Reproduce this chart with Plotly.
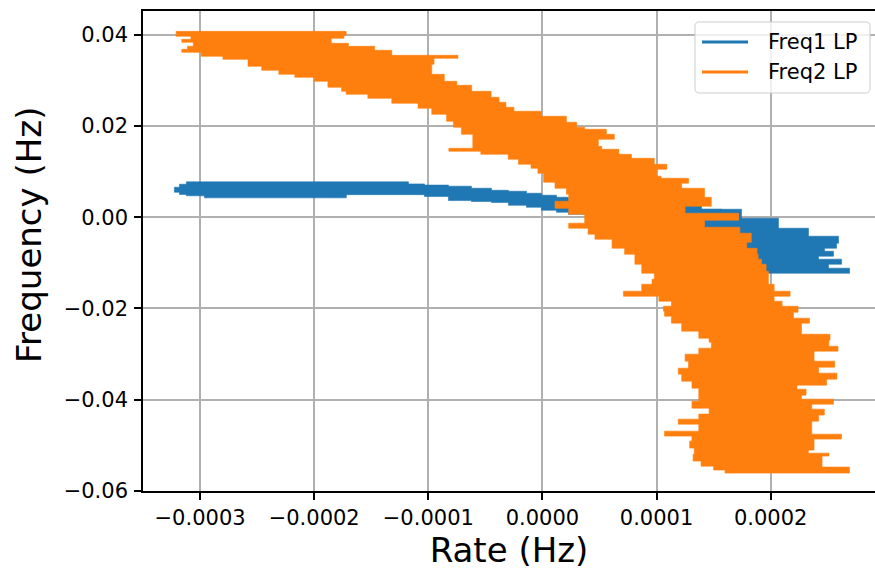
import plotly.graph_objects as go

BLUE = "#1f77b4"
ORANGE = "#ff7f0e"
FONT = "DejaVu Sans"

# ---------------- Freq2 LP band (orange) ----------------
# left boundary of the band: frequency at the top of each step, and rate
f2_left_freq = [0.04074, 0.03965, 0.03899, 0.03834, 0.03746, 0.03680, 0.03614, 0.03527,
                0.03461, 0.03308, 0.03220, 0.03133, 0.03067, 0.02979, 0.02848, 0.02760,
                0.02694, 0.02607, 0.02497, 0.02388, 0.02256, 0.02103, 0.01972, 0.01818,
                0.01512, 0.01446, 0.01380, 0.01271, 0.01161, 0.01073, 0.00964, 0.00767,
                0.00635, 0.00504, 0.00350, 0.00197, 0.00066, -0.00131, -0.00241, -0.00372,
                -0.00482, -0.00679, -0.00811, -0.01030, -0.01227, -0.01358, -0.01468, -0.01621,
                -0.01731, -0.01840, -0.01950, -0.02059, -0.02169, -0.02322, -0.02497, -0.02651,
                -0.02738, -0.02870, -0.03001, -0.03154, -0.03308, -0.03439, -0.03593, -0.03746,
                -0.04031, -0.04184, -0.04315, -0.04425, -0.04535, -0.04688, -0.04797, -0.04907,
                -0.05060, -0.05192, -0.05345, -0.05455, -0.05542]
f2_left_rate = [-3.21e-4, -3.08e-4, -3.16e-4, -3.06e-4, -3.11e-4, -3.16e-4, -2.99e-4, -2.80e-4,
                -2.58e-4, -2.46e-4, -2.31e-4, -2.17e-4, -2.00e-4, -1.88e-4, -1.76e-4, -1.72e-4,
                -1.53e-4, -1.32e-4, -1.09e-4, -0.97e-4, -0.84e-4, -0.78e-4, -0.71e-4, -0.61e-4,
                -0.82e-4, -0.54e-4, -0.30e-4, -0.21e-4, -0.10e-4, -0.04e-4, 0.01e-4, 0.11e-4,
                0.21e-4, 0.23e-4, 0.11e-4, 0.23e-4, 0.37e-4, 0.23e-4, 0.40e-4, 0.46e-4,
                0.61e-4, 0.72e-4, 0.81e-4, 0.87e-4, 0.98e-4, 0.96e-4, 0.87e-4, 0.71e-4,
                1.02e-4, 1.13e-4, 1.06e-4, 1.07e-4, 1.13e-4, 1.22e-4, 1.37e-4, 1.46e-4,
                1.48e-4, 1.37e-4, 1.25e-4, 1.28e-4, 1.19e-4, 1.22e-4, 1.31e-4, 1.37e-4,
                1.31e-4, 1.46e-4, 1.37e-4, 1.19e-4, 1.37e-4, 1.07e-4, 1.31e-4, 1.29e-4,
                1.33e-4, 1.32e-4, 1.39e-4, 1.50e-4, 1.60e-4]
# right boundary of the band
f2_right_freq = [0.04074, 0.03987, 0.03921, 0.03812, 0.03746, 0.03658, 0.03549, 0.03483,
                 0.03352, 0.03133, 0.02979, 0.02892, 0.02760, 0.02629, 0.02519, 0.02410,
                 0.02322, 0.02212, 0.02081, 0.01972, 0.01928, 0.01818, 0.01709, 0.01555,
                 0.01490, 0.01380, 0.01292, 0.01161, 0.01051, 0.00898, 0.00854, 0.00745,
                 0.00635, 0.00438, 0.00241, 0.00088, -0.00066, -0.00219, -0.00350, -0.00548,
                 -0.00679, -0.00811, -0.00920, -0.01030, -0.01183, -0.01468, -0.01621, -0.01731,
                 -0.01840, -0.01950, -0.02081, -0.02212, -0.02322, -0.02563, -0.02694, -0.02826,
                 -0.02935, -0.03154, -0.03286, -0.03417, -0.03549, -0.03680, -0.03768, -0.03899,
                 -0.03987, -0.04096, -0.04206, -0.04337, -0.04469, -0.04754, -0.04863, -0.05104,
                 -0.05170, -0.05235, -0.05476]
f2_right_rate = [-1.72e-4, -1.74e-4, -1.85e-4, -1.70e-4, -1.47e-4, -1.32e-4, -0.74e-4, -0.95e-4,
                 -0.97e-4, -0.86e-4, -0.75e-4, -0.62e-4, -0.45e-4, -0.38e-4, -0.32e-4, -0.25e-4,
                 -0.01e-4, 0.21e-4, 0.30e-4, 0.37e-4, 0.56e-4, 0.63e-4, 0.49e-4, 0.52e-4,
                 0.67e-4, 0.78e-4, 0.98e-4, 1.09e-4, 1.00e-4, 1.04e-4, 1.28e-4, 1.22e-4,
                 1.42e-4, 1.48e-4, 1.25e-4, 1.72e-4, 1.42e-4, 1.73e-4, 1.83e-4, 1.79e-4,
                 1.88e-4, 1.89e-4, 1.92e-4, 1.96e-4, 1.98e-4, 2.03e-4, 2.17e-4, 2.03e-4,
                 2.10e-4, 2.24e-4, 2.20e-4, 2.34e-4, 2.27e-4, 2.52e-4, 2.51e-4, 2.59e-4,
                 2.38e-4, 2.56e-4, 2.42e-4, 2.58e-4, 2.49e-4, 2.23e-4, 2.31e-4, 2.27e-4,
                 2.55e-4, 2.36e-4, 2.47e-4, 2.42e-4, 2.36e-4, 2.62e-4, 2.38e-4, 2.33e-4,
                 2.51e-4, 2.45e-4, 2.69e-4]
f2_bottom = -0.05608

# ---------------- Freq1 LP band (blue) ----------------
# main body: rate at the left of each step, with upper and lower frequency
f1_body_rate = [-3.225e-4, -3.181e-4, -3.120e-4, -2.962e-4, -1.718e-4, -1.174e-4, -1.034e-4,
                -0.824e-4, -0.622e-4, -0.447e-4, -0.298e-4, -0.140e-4, -0.009e-4, 0.123e-4,
                0.228e-4, 0.517e-4, 0.955e-4, 1.394e-4]
f1_body_top = [0.00657, 0.00723, 0.00775, 0.00775, 0.00775, 0.00730, 0.00705,
               0.00680, 0.00635, 0.00591, 0.00570, 0.00526, 0.00482, 0.00438,
               0.00394, 0.00350, 0.00263, 0.00175]
f1_body_bottom = [0.00548, 0.00500, 0.00470, 0.00425, 0.00495, 0.00495, 0.00455,
                  0.00365, 0.00345, 0.00325, 0.00263, 0.00219, 0.00153, 0.00110,
                  0.00066, 0.00022, -0.00044, -0.00131]
f1_body_end = 1.569e-4
# right-hand tail: frequency at the top of each step, with left and right rate
f1_tail_left_freq = [0.00175]
f1_tail_left_rate = [1.394e-4]
f1_tail_right_freq = [0.00175, -0.00022, -0.00241, -0.00416, -0.00570, -0.00679,
                      -0.00745, -0.00854, -0.00920, -0.01030, -0.01117]
f1_tail_right_rate = [1.744e-4, 2.068e-4, 2.331e-4, 2.594e-4, 2.577e-4, 2.472e-4,
                      2.550e-4, 2.419e-4, 2.621e-4, 2.507e-4, 2.691e-4]
f1_tail_bottom = -0.01227

series_names = ["Freq1 LP", "Freq2 LP"]
series_colors = [BLUE, ORANGE]

x_ticks = [-0.0003, -0.0002, -0.0001, 0.0, 0.0001, 0.0002]
y_ticks = [-0.06, -0.04, -0.02, 0.0, 0.02, 0.04]


def vertical_band(lf, lr, rf, rr, bottom):
    """Closed outline of a band given its left and right step edges (top to bottom)."""
    xs = list(lr) + list(reversed(rr)) + [lr[0]]
    ys = list(lf) + [bottom] + list(reversed(rf[1:])) + [lf[0]]
    return xs, ys


def horizontal_band(r, top, bot, end):
    """Closed outline of a band given its upper and lower step edges (left to right)."""
    xs = list(r) + [end] + list(reversed(r[1:])) + [r[0]]
    ys = list(top) + [bot[-1]] + list(reversed(bot[:-1])) + [top[0]]
    return xs, ys


def fmt(v, nd):
    s = f"{abs(v):.{nd}f}"
    return ("\u2212" + s) if v < 0 else s


fig = go.Figure()

bx, by = horizontal_band(f1_body_rate, f1_body_top, f1_body_bottom, f1_body_end)
fig.add_trace(go.Scatter(x=bx, y=by, mode="lines", fill="toself", fillcolor=BLUE,
                         name=series_names[0],
                         line=dict(color=BLUE, width=0.6, shape="hv"),
                         showlegend=False, hoverinfo="skip"))
tx, ty = vertical_band(f1_tail_left_freq, f1_tail_left_rate,
                       f1_tail_right_freq, f1_tail_right_rate, f1_tail_bottom)
fig.add_trace(go.Scatter(x=tx, y=ty, mode="lines", fill="toself", fillcolor=BLUE,
                         name=series_names[0],
                         line=dict(color=BLUE, width=0.6, shape="vh"),
                         showlegend=False, hoverinfo="skip"))
ox, oy = vertical_band(f2_left_freq, f2_left_rate, f2_right_freq, f2_right_rate, f2_bottom)
fig.add_trace(go.Scatter(x=ox, y=oy, mode="lines", fill="toself", fillcolor=ORANGE,
                         name=series_names[1],
                         line=dict(color=ORANGE, width=0.6, shape="vh"),
                         showlegend=False, hoverinfo="skip"))

axis_common = dict(
    showline=True, linecolor="black", linewidth=1.6,
    ticks="outside", ticklen=7, tickwidth=1.6, tickcolor="black",
    showgrid=True, gridcolor="#b0b0b0", gridwidth=1.6,
    zeroline=False,
    tickfont=dict(family=FONT, size=21, color="black"),
)

# legend box (matplotlib style, rounded corners) placed in the upper right corner
lx0, lx1, ly0, ly1 = 0.7541, 0.9932, 0.8292, 0.9771
rx, ry = 0.0060, 0.0090
box_path = (f"M{lx0 + rx},{ly1} L{lx1 - rx},{ly1} Q{lx1},{ly1} {lx1},{ly1 - ry} "
            f"L{lx1},{ly0 + ry} Q{lx1},{ly0} {lx1 - rx},{ly0} "
            f"L{lx0 + rx},{ly0} Q{lx0},{ly0} {lx0},{ly0 + ry} "
            f"L{lx0},{ly1 - ry} Q{lx0},{ly1} {lx0 + rx},{ly1} Z")
shapes = [dict(type="path", path=box_path, xref="paper", yref="paper", layer="above",
               fillcolor="rgba(255,255,255,0.8)", line=dict(color="#cccccc", width=1))]
annotations = []
entry_y = [0.9354, 0.8729]
for name, color, yy in zip(series_names, series_colors, entry_y):
    shapes.append(dict(type="line", xref="paper", yref="paper", layer="above",
                       x0=0.7637, x1=0.8265, y0=yy, y1=yy,
                       line=dict(color=color, width=3)))
    annotations.append(dict(text=name, xref="paper", yref="paper", x=0.8511, y=yy,
                            xanchor="left", yanchor="middle", showarrow=False,
                            font=dict(family=FONT, size=21, color="black")))

annotations.append(dict(text="Frequency (Hz)", textangle=-90, xref="paper", yref="paper",
                        x=-0.156, y=0.533, xanchor="center", yanchor="middle",
                        showarrow=False, font=dict(family=FONT, size=34, color="black")))

fig.update_layout(
    width=875, height=571,
    margin=dict(l=143, r=0, t=11, b=80),
    paper_bgcolor="white", plot_bgcolor="white",
    font=dict(family=FONT, color="black"),
    showlegend=False,
    xaxis=dict(range=[-0.000350, 0.0002914], tickmode="array", tickvals=x_ticks,
               ticktext=[fmt(v, 4) for v in x_ticks], mirror=True,
               title=dict(text="Rate (Hz)", font=dict(family=FONT, size=34), standoff=9),
               **axis_common),
    yaxis=dict(range=[-0.0600, 0.0452], tickmode="array", tickvals=y_ticks,
               ticktext=[fmt(v, 2) for v in y_ticks], mirror=False,
               ticklabelstandoff=2,
               **axis_common),
    shapes=shapes,
    annotations=annotations,
)

fig.write_html("out.html")
